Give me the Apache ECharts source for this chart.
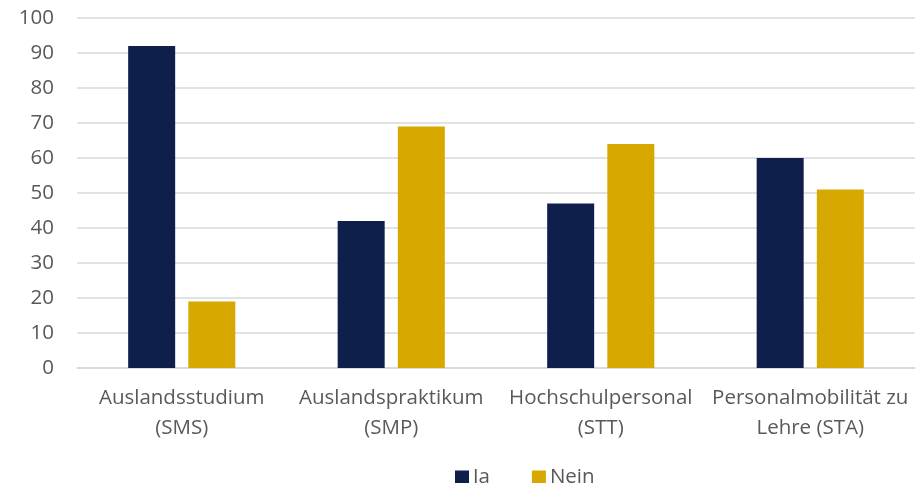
<!DOCTYPE html>
<html>
<head>
<meta charset="utf-8">
<script src="https://cdn.jsdelivr.net/npm/echarts@6/dist/echarts.min.js"></script>
<style>html,body{margin:0;padding:0;background:#fff}#c{width:916px;height:483px}</style>
</head>
<body>
<div id="c"></div>
<script>
const categories = ["Auslandsstudium\n(SMS)", "Auslandspraktikum\n(SMP)", "Hochschulpersonal\n(STT)", "Personalmobilität zu\nLehre (STA)"];
const jaValues = [92, 42, 47, 60];
const neinValues = [19, 69, 64, 51];
const seriesNames = ["Ja", "Nein"];

const chart = echarts.init(document.getElementById('c'));
const font = 'Open Sans';
chart.setOption({
  animation: false,
  textStyle: { fontFamily: font },
  grid: { left: 77, right: 1, top: 18, bottom: 115 },
  legend: {
    data: seriesNames,
    left: 450, top: 462,
    itemWidth: 14, itemHeight: 14, itemGap: 42,
    icon: 'rect',
    textStyle: { color: '#595959', fontSize: 20.5, fontFamily: font, padding: [0,0,0,-1] }
  },
  xAxis: {
    type: 'category',
    data: categories,
    axisLine: { show: true, lineStyle: { color: '#d9d9d9', width: 1.5 } },
    axisTick: { show: false },
    axisLabel: { color: '#595959', fontSize: 20.5, fontFamily: font, lineHeight: 30, margin: 15, interval: 0 }
  },
  yAxis: {
    type: 'value',
    min: 0, max: 100, interval: 10,
    axisLine: { show: false },
    axisTick: { show: false },
    axisLabel: { color: '#595959', fontSize: 20.5, fontFamily: font, margin: 23 },
    splitLine: { lineStyle: { color: '#d9d9d9', width: 1.5 } }
  },
  series: [
    { name: seriesNames[0], type: 'bar', data: jaValues, barWidth: 47, barGap: '28%', itemStyle: { color: '#0e1f4c' } },
    { name: seriesNames[1], type: 'bar', data: neinValues, barWidth: 47, itemStyle: { color: '#d7a900' } }
  ]
});
</script>
</body>
</html>
